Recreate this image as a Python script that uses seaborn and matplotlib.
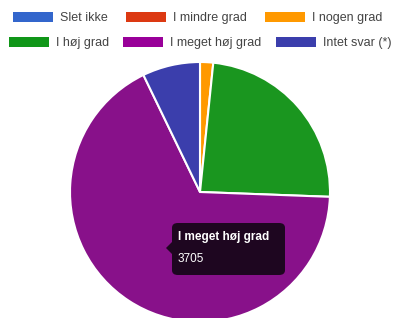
import matplotlib
matplotlib.use('Agg')
import matplotlib.pyplot as plt
import seaborn as sns
from matplotlib.patches import Patch, FancyBboxPatch, Polygon

# Data
labels = ['Slet ikke', 'I mindre grad', 'I nogen grad', 'I høj grad', 'I meget høj grad', 'Intet svar (*)']
counts = [0, 0, 90, 1320, 3705, 395]
colors = ['#3366cc', '#dc3912', '#ff9900', '#1a961f', '#88118a', '#3b3eac']
legend_colors = ['#3366cc', '#dc3912', '#ff9900', '#109618', '#990099', '#3b3eac']
tooltip_label = 'I meget høj grad'
tooltip_value = '3705'

sns.set_theme(style='white')
plt.rcParams['font.family'] = ['Liberation Sans', 'DejaVu Sans']

fig = plt.figure(figsize=(3.93, 3.18), dpi=100)
ax = fig.add_axes([0, 0, 1, 1])

# pie: radius 1 = 130 px, centre at (200, 192) px from top-left
ax.pie(counts, colors=colors, startangle=90, counterclock=False, radius=1,
       wedgeprops=dict(edgecolor='white', linewidth=1.5))
ax.set_xlim(-200 / 130, 193 / 130)
ax.set_ylim(-(318 - 192) / 130, 192 / 130)
ax.set_aspect('auto')
ax.axis('off')

# legend in two flowing rows
handles = [Patch(facecolor=c, edgecolor='none') for c in legend_colors]
leg_kw = dict(ncol=3, frameon=False, fontsize=9, handlelength=3.2, handleheight=0.9,
              handletextpad=0.55, borderaxespad=0, borderpad=0, labelcolor='#444444')
fig.legend(handles[:3], labels[:3], loc='center left', bbox_to_anchor=(13 / 393, 1 - 18 / 318),
           columnspacing=1.45, **leg_kw)
fig.legend(handles[3:], labels[3:], loc='center left', bbox_to_anchor=(9 / 393, 1 - 43 / 318),
           columnspacing=1.15, **leg_kw)

# tooltip
tx0, ty0, tw, th = 172, 223, 113, 52
box = FancyBboxPatch((tx0 / 393, 1 - (ty0 + th) / 318), tw / 393, th / 318,
                     boxstyle='round,pad=0,rounding_size=0.015', transform=fig.transFigure,
                     facecolor='#1e0620', edgecolor='none')
fig.patches.append(box)
arrow = Polygon([(tx0 / 393, 1 - 242 / 318), ((tx0 - 6) / 393, 1 - 248 / 318), (tx0 / 393, 1 - 254 / 318)],
                closed=True, transform=fig.transFigure, facecolor='#1e0620', edgecolor='none')
fig.patches.append(arrow)
fig.text(178 / 393, 1 - 237 / 318, tooltip_label, color='white', fontsize=8.5, fontweight='bold', va='center')
fig.text(178 / 393, 1 - 259 / 318, tooltip_value, color='white', fontsize=8.5, va='center')

fig.savefig('out.png', dpi=100)
